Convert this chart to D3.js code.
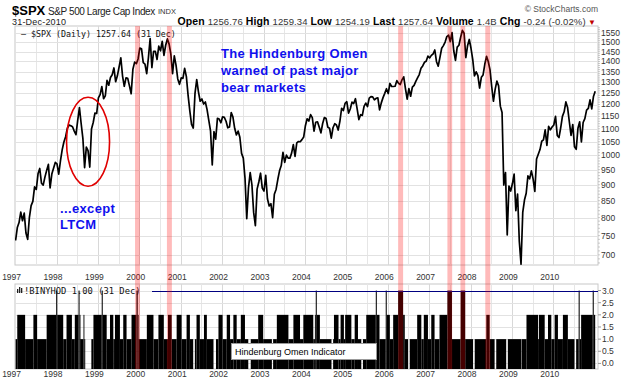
<!DOCTYPE html>
<html><head><meta charset="utf-8">
<script src="https://cdn.jsdelivr.net/npm/d3@7"></script>
<style>body{margin:0;background:#fff;} svg{display:block;font-family:"Liberation Sans",Arial,sans-serif;}</style>
</head><body>
<svg id="c" width="638" height="384"></svg>
<script>
// ---- DATA ----
const spxStart = 737;
const spx1997 = [772, 786, 816, 791, 813, 757, 740, 801, 835, 848, 893, 885, 936, 954, 905, 899, 925, 947, 968, 890, 935, 955, 975, 970];
const spx1998 = [935, 980, 1020, 1049, 1069, 1102, 1115, 1112, 1108, 1091, 1077, 1134, 1187, 1121, 1063, 957, 1030, 1017, 959, 1099, 1125, 1164, 1162, 1229];
const spx1999 = [1243, 1280, 1225, 1238, 1308, 1286, 1322, 1335, 1368, 1302, 1330, 1373, 1418, 1329, 1281, 1320, 1318, 1283, 1247, 1362, 1397, 1389, 1413, 1469];
const spx2000 = [1465, 1394, 1387, 1340, 1420, 1520, 1370, 1452, 1452, 1410, 1479, 1455, 1505, 1431, 1484, 1518, 1490, 1437, 1340, 1429, 1382, 1315, 1290, 1320];
const spx2001 = [1318, 1366, 1326, 1240, 1173, 1117, 1103, 1249, 1312, 1256, 1214, 1224, 1202, 1211, 1178, 1134, 1092, 966, 1089, 1060, 1142, 1139, 1124, 1148];
const spx2002 = [1146, 1130, 1104, 1107, 1166, 1147, 1102, 1076, 1091, 1067, 1007, 990, 921, 797, 890, 940, 900, 815, 777, 886, 909, 938, 889, 880];
const spx2003 = [931, 856, 834, 841, 800, 870, 885, 917, 946, 964, 1011, 975, 1001, 990, 990, 1008, 1039, 996, 1046, 1051, 1050, 1058, 1068, 1112];
const spx2004 = [1140, 1131, 1157, 1145, 1091, 1126, 1128, 1107, 1084, 1121, 1145, 1141, 1106, 1102, 1064, 1104, 1120, 1115, 1095, 1130, 1184, 1174, 1205, 1212];
const spx2005 = [1163, 1181, 1210, 1204, 1225, 1181, 1137, 1157, 1154, 1192, 1206, 1191, 1228, 1234, 1233, 1220, 1227, 1229, 1177, 1207, 1230, 1249, 1270, 1248];
const spx2006 = [1294, 1280, 1280, 1281, 1307, 1295, 1289, 1311, 1325, 1270, 1223, 1270, 1236, 1277, 1285, 1304, 1320, 1336, 1366, 1378, 1396, 1401, 1427, 1418];
const spx2007 = [1431, 1438, 1459, 1399, 1377, 1421, 1468, 1482, 1501, 1531, 1539, 1503, 1553, 1455, 1406, 1474, 1484, 1527, 1565, 1549, 1420, 1481, 1515, 1468];
const spx2008 = [1411, 1330, 1349, 1331, 1273, 1323, 1334, 1386, 1426, 1400, 1360, 1280, 1214, 1267, 1305, 1283, 1193, 1166, 899, 940, 752, 896, 880, 903];
const spx2009 = [935, 820, 870, 735, 677, 815, 852, 873, 929, 919, 946, 919, 879, 987, 1004, 1021, 1052, 1057, 1096, 1036, 1110, 1096, 1107, 1115];
const spx2010 = [1150, 1074, 1066, 1104, 1150, 1169, 1211, 1187, 1128, 1074, 1117, 1031, 1022, 1102, 1128, 1049, 1125, 1141, 1176, 1183, 1220, 1181, 1235, 1258];
const spxYears = [1997,1998,1999,2000,2001,2002,2003,2004,2005,2006,2007,2008,2009,2010];
const spxByYear = [spx1997,spx1998,spx1999,spx2000,spx2001,spx2002,spx2003,spx2004,spx2005,spx2006,spx2007,spx2008,spx2009,spx2010];

const priceTicks = [700,750,800,850,900,950,1000,1050,1100,1150,1200,1250,1300,1350,1400,1450,1500,1550];
const indTicks = [0,0.5,1,1.5,2,2.5,3];
const yearLabels = [1997,1998,1999,2000,2001,2002,2003,2004,2005,2006,2007,2008,2009,2010];

// Hindenburg Omen signal windows (decimal years)
const omenStart = [1999.885, 2000.655, 2006.24, 2007.43, 2007.745, 2008.345];
const omenEnd   = [2000.005, 2000.775, 2006.36, 2007.545, 2007.86, 2008.465];

// !BINYHOD indicator: change points [decimal year, value]
const indicator = [[1997.00,1],[1997.04,2],[1997.23,1],[1997.43,2],[1997.52,1],[1997.75,2],[1997.98,3],[1998.005,2],[1998.15,1],[1998.23,2],[1998.36,1],[1998.43,2],[1998.52,3],[1998.545,2],[1998.56,1],[1998.64,2],[1998.66,1],[1998.68,0],[1998.83,1],[1998.88,2],[1999.08,3],[1999.105,2],[1999.20,1],[1999.28,2],[1999.36,1],[1999.40,2],[1999.52,1],[1999.60,2],[1999.68,1],[1999.80,2],[1999.92,3],[1999.95,2],[1999.97,1],[2000.17,2],[2000.33,1],[2000.45,2],[2000.58,1],[2000.68,2],[2000.77,1],[2000.89,2],[2001.01,1],[2001.13,2],[2001.21,1],[2001.29,0],[2001.33,1],[2001.37,2],[2001.45,1],[2001.55,2],[2001.62,1],[2001.78,0],[2001.84,1],[2001.90,2],[2002.00,1],[2002.10,2],[2002.18,1],[2002.26,2],[2002.34,1],[2002.44,2],[2002.54,1],[2002.62,0],[2002.68,1],[2002.86,2],[2002.98,1],[2003.19,0],[2003.22,1],[2003.31,2],[2003.59,1],[2003.71,2],[2003.87,1],[2003.95,2],[2004.19,1],[2004.23,2],[2004.25,3],[2004.275,2],[2004.35,1],[2004.63,0],[2004.67,1],[2004.69,2],[2004.80,1],[2004.85,2],[2004.93,1],[2004.96,2],[2005.11,1],[2005.19,2],[2005.27,1],[2005.35,0],[2005.39,1],[2005.47,2],[2005.70,3],[2005.725,2],[2005.79,1],[2005.94,3],[2005.965,2],[2006.04,1],[2006.12,2],[2006.24,3],[2006.36,2],[2006.40,1],[2006.48,0],[2006.52,1],[2006.70,2],[2006.80,1],[2006.86,2],[2006.96,1],[2007.04,2],[2007.12,1],[2007.24,2],[2007.43,3],[2007.54,1],[2007.75,3],[2007.86,1],[2008.05,0],[2008.09,1],[2008.37,2],[2008.45,1],[2008.57,0],[2008.61,1],[2008.85,0],[2008.89,1],[2009.22,0],[2009.23,1],[2009.34,2],[2009.62,1],[2009.64,2],[2009.78,1],[2009.86,2],[2009.94,1],[2010.02,2],[2010.10,1],[2010.22,2],[2010.34,1],[2010.50,0],[2010.54,1],[2010.60,3],[2010.625,1],[2010.66,2],[2010.94,3],[2010.965,2]];

// ---- BUILD ----
const prices = [{t:1997, v:spxStart}];
spxByYear.forEach((arr, k) => arr.forEach((v, i) => prices.push({t: spxYears[k] + (i + 1) / 24, v})));

const svg = d3.select("#c");
const L = 15, R = 598, mainTop = 26, mainBot = 265, lowTop = 284, lowBot = 369;
const x = d3.scaleLinear([1997, 2011], [15.6, 595.2]);
const y = d3.scaleLog([675, 1590], [mainBot, mainTop]);
const yi = d3.scaleLinear([-0.23, 3.27], [lowBot, lowTop]);

const gridV = d3.range(1997.5, 2011, 0.5);

function panel(top, bot) {
  const g = svg.append("g");
  g.append("rect").attr("x", L).attr("y", top).attr("width", R - L).attr("height", bot - top).attr("fill", "#fff").attr("stroke", "#c8c8c8");
  g.selectAll("line.v").data(gridV).join("line")
    .attr("x1", d => x(d)).attr("x2", d => x(d)).attr("y1", top).attr("y2", bot)
    .attr("stroke", d => (d % 1 === 0 ? "#d8d8d8" : "#e6e6e6")).attr("shape-rendering", "crispEdges");
  return g;
}

// main panel
const gm = panel(mainTop, mainBot);
gm.selectAll("line.h").data(priceTicks).join("line")
  .attr("x1", L).attr("x2", R).attr("y1", d => Math.round(y(d)) + 0.5).attr("y2", d => Math.round(y(d)) + 0.5)
  .attr("stroke", "#e2e2e2");
// right axis price
const minor = d3.range(680, 1590, 10);
svg.selectAll("line.mt").data(minor).join("line")
  .attr("x1", R).attr("x2", R + 2).attr("y1", d => y(d)).attr("y2", d => y(d)).attr("stroke", "#aaa").attr("stroke-width", 0.6);
svg.selectAll("text.pt").data(priceTicks).join("text")
  .attr("x", R + 3).attr("y", d => y(d)).attr("dy", "0.35em")
  .attr("font-size", 8.5).attr("fill", "#333").text(d => d);

svg.append("defs").append("clipPath").attr("id", "cm").append("rect")
  .attr("x", L).attr("y", mainTop).attr("width", R - L).attr("height", mainBot - mainTop);
svg.append("path").datum(prices).attr("clip-path", "url(#cm)")
  .attr("d", d3.line().x(d => x(d.t)).y(d => y(d.v)))
  .attr("fill", "none").attr("stroke", "#000").attr("stroke-width", 1.7).attr("stroke-linejoin", "round");

// legend main
svg.append("text").attr("x", 21).attr("y", 36.5).attr("font-family", "DejaVu Sans Mono").attr("font-size", 8.3)
  .attr("fill", "#111").text("— $SPX (Daily) 1257.64 (31 Dec)");

// annotations
svg.append("ellipse").attr("cx", x(1998.75)).attr("cy", y(1050)).attr("rx", 21.5).attr("ry", 44.5)
  .attr("fill", "none").attr("stroke", "#e00000").attr("stroke-width", 1.6);
const blue = "#1010ee";
const ann = svg.append("g").attr("font-weight", "bold").attr("font-size", 13).attr("fill", blue).attr("letter-spacing", 0.35);
ann.append("text").attr("x", 221).attr("y", 58).text("The Hindenburg Omen");
ann.append("text").attr("x", 221).attr("y", 75).text("warned of past major");
ann.append("text").attr("x", 221).attr("y", 91.5).text("bear markets");
ann.append("text").attr("x", 60).attr("y", 213).text("...except");
ann.append("text").attr("x", 60).attr("y", 229).text("LTCM");

// x axis labels
function xLabels(yy) {
  svg.append("g").selectAll("text").data(yearLabels).join("text")
    .attr("x", d => x(d) - 4).attr("y", yy).attr("text-anchor", "middle")
    .attr("font-size", 8.5).attr("fill", "#333").text(d => d);
}
xLabels(280);

// lower panel
const gl = panel(lowTop, lowBot);
gl.selectAll("line.h").data(indTicks).join("line")
  .attr("x1", L).attr("x2", R).attr("y1", d => Math.round(yi(d)) + 0.5).attr("y2", d => Math.round(yi(d)) + 0.5)
  .attr("stroke", "#e2e2e2");
const segs = indicator.map((d, i) => ({t0: d[0], t1: i < indicator.length - 1 ? indicator[i + 1][0] : 2011, v: d[1]}))
  .filter(d => d.v > 0);
svg.append("g").selectAll("rect").data(segs).join("rect")
  .attr("x", d => x(d.t0)).attr("width", d => Math.max(0.9, x(d.t1) - x(d.t0)))
  .attr("y", d => yi(d.v)).attr("height", d => lowBot - yi(d.v)).attr("fill", "#000");
// 3.0 line
svg.append("line").attr("x1", 152).attr("x2", R).attr("y1", Math.round(yi(3)) + 0.5).attr("y2", Math.round(yi(3)) + 0.5)
  .attr("stroke", "#000080").attr("stroke-width", 1);
svg.selectAll("line.it").data(indTicks).join("line")
  .attr("x1", R).attr("x2", R + 3).attr("y1", d => yi(d)).attr("y2", d => yi(d)).attr("stroke", "#999");
svg.selectAll("text.it").data(indTicks).join("text")
  .attr("x", R + 4).attr("y", d => yi(d)).attr("dy", "0.35em")
  .attr("font-size", 8.5).attr("fill", "#333").text(d => d.toFixed(1));
// lower legend
const ic = svg.append("g").attr("fill", "#222");
ic.append("rect").attr("x", 17).attr("y", 289).attr("width", 1.3).attr("height", 4);
ic.append("rect").attr("x", 19).attr("y", 287).attr("width", 1.3).attr("height", 6);
ic.append("rect").attr("x", 21).attr("y", 288).attr("width", 1.3).attr("height", 5);
svg.append("text").attr("x", 24).attr("y", 293.5).attr("font-family", "DejaVu Sans Mono").attr("font-size", 8.8)
  .attr("fill", "#111").text("!BINYHOD 1.00 (31 Dec)");
svg.append("rect").attr("x", 231.5).attr("y", 343.5).attr("width", 145).attr("height", 16).attr("fill", "#fff").attr("stroke", "#999");
svg.append("text").attr("x", 235).attr("y", 355).attr("font-size", 9).attr("fill", "#000").text("Hindenburg Omen Indicator");
xLabels(377);

// omen bands
svg.append("g").selectAll("rect").data(omenStart.map((s, i) => [s, omenEnd[i]])).join("rect")
  .attr("x", d => x(d[0])).attr("width", d => x(d[1]) - x(d[0]))
  .attr("y", mainTop).attr("height", lowBot - mainTop)
  .attr("fill", "#ff0000").attr("opacity", 0.27);

// header
svg.append("text").attr("x", 12).attr("y", 14.5).attr("font-size", 13).attr("font-weight", "bold").text("$SPX");
svg.append("text").attr("x", 48).attr("y", 14.5).attr("font-size", 10).attr("letter-spacing", -0.4).attr("fill", "#222").text("S&P 500 Large Cap Index");
svg.append("text").attr("x", 158).attr("y", 14).attr("font-size", 7.5).attr("fill", "#333").text("INDX");
svg.append("text").attr("x", 12).attr("y", 24.5).attr("font-size", 9).attr("letter-spacing", 0.2).attr("fill", "#222").text("31-Dec-2010");
svg.append("text").attr("x", 598).attr("y", 12).attr("text-anchor", "end").attr("font-size", 8.5).attr("fill", "#555").text("© StockCharts.com");
const hdr = svg.append("text").attr("x", 596).attr("y", 25).attr("text-anchor", "end").attr("font-size", 9.5)
  .attr("letter-spacing", 0.1).attr("fill", "#333");
const fields = [["Open","1256.76"],["High","1259.34"],["Low","1254.19"],["Last","1257.64"],["Volume","1.4B"],["Chg","-0.24 (-0.02%)"]];
fields.forEach(([k, v], i) => {
  hdr.append("tspan").attr("font-weight", "bold").attr("font-size", 10.5).attr("fill", "#000").text((i ? "  " : "") + k + " ");
  hdr.append("tspan").text(v);
});
hdr.append("tspan").attr("fill", "#c00000").attr("font-size", 8).text(" ▼");
</script>
</body></html>
